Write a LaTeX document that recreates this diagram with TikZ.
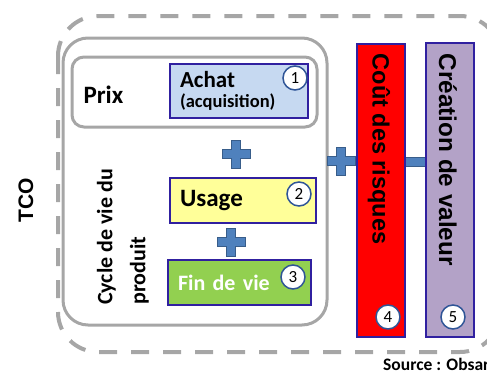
\documentclass[tikz,border=0pt]{standalone}
\usepackage{fontspec}
\setmainfont{Carlito}
\newfontfamily\arialfont{Liberation Sans}
\usetikzlibrary{positioning}
\definecolor{grisbord}{RGB}{166,166,166}
\definecolor{bordbleu}{RGB}{48,32,160}
\definecolor{bleuachat}{RGB}{198,217,241}
\definecolor{jauneusage}{RGB}{255,255,153}
\definecolor{vertfin}{RGB}{146,208,80}
\definecolor{mauve}{RGB}{179,162,199}
\definecolor{bleuplus}{RGB}{79,129,189}
\definecolor{bleuplusbord}{RGB}{56,93,138}
\definecolor{bleunum}{RGB}{47,85,151}

\begin{document}
\begin{tikzpicture}[x=1pt,y=-1pt,
	boite/.style={draw=bordbleu, line width=1.5pt, rectangle, inner sep=0pt},
	numero/.style={circle, draw=bleunum, fill=white, line width=1.5pt, minimum size=24pt, inner sep=0pt, font=\fontsize{17}{17}\selectfont},
	signe/.style={fill=bleuplus, draw=bleuplusbord, line width=1pt},
	gras/.style={font=\bfseries\fontsize{24}{24}\selectfont},
	croix/.pic={\draw[signe] (-14,-4.5) -- (-4.5,-4.5) -- (-4.5,-14) -- (4.5,-14) -- (4.5,-4.5) -- (14,-4.5) -- (14,4.5) -- (4.5,4.5) -- (4.5,14) -- (-4.5,14) -- (-4.5,4.5) -- (-14,4.5) -- cycle;}]
			
			\useasboundingbox (0,0) rectangle (487,372);
			\clip (0,0) rectangle (487,372);
			
			%cadres gris
			\draw[grisbord, line width=4pt, dash pattern=on 18pt off 14pt, rounded corners=40pt] (58,16) rectangle (500,352); %TCO
			\draw[grisbord, line width=3pt, rounded corners=25pt] (63,38) rectangle (327,325); %cycle de vie
			\draw[grisbord, line width=3pt, rounded corners=12pt] (72,57) rectangle (317,127); %prix
			
			%signes plus et moins
			\foreach \cx/\cy in {236/154, 231/242, 341/161}
				\pic at (\cx,\cy) {croix};
			\draw[signe] (404,157) rectangle (428,166);
			
			%boites
			\node[boite, fill=bleuachat, minimum width=138pt, minimum height=54pt, text width=118pt, align=left, font=\bfseries\fontsize{23}{23}\selectfont] (achat) at (239,91) {Achat\\[-3pt]{\fontsize{18.5}{18.5}\selectfont (acquisition)}};
			\node[boite, fill=jauneusage, minimum width=146pt, minimum height=45pt, text width=126pt, align=left, font=\bfseries\fontsize{25}{25}\selectfont] (usage) at (243,200.5) {Usage};
			\node[boite, fill=vertfin, minimum width=143pt, minimum height=45pt, text width=123pt, align=left, font=\bfseries\fontsize{22}{22}\selectfont, text=white] (fin) at (239.5,282.5) {Fin de vie};
			\node[boite, fill=red, minimum width=48pt, minimum height=293pt] (cout) at (381,190.5) {};
			\node[boite, fill=mauve, minimum width=48pt, minimum height=294pt] (creation) at (450,190) {};
			
			%textes verticaux
			\node[rotate=-90, anchor=west, font=\arialfont\bfseries\fontsize{23.5}{23.5}\selectfont] (couttxt) at ([xshift=-2pt,yshift=-7pt]cout.north) {Coût des risques};
			\node[rotate=-90, anchor=west, font=\arialfont\bfseries\fontsize{24.3}{24.3}\selectfont] (creationtxt) at ([xshift=-2pt,yshift=-8pt]creation.north) {Création de valeur};
			\node[rotate=90, anchor=west, align=left, inner sep=0pt, font=\bfseries\fontsize{22}{33}\selectfont] (cycle) at (123,305) {Cycle de vie du\\produit};
			\node[rotate=90, font=\arialfont\bfseries\fontsize{21}{21}\selectfont] (tco) at (26,200) {TCO};
			\node[gras, anchor=west, font=\bfseries\fontsize{25}{25}\selectfont] (prix) at (80,95) {Prix};
			
			%numeros
			\node[numero] (n1) at (295,78) {1};
			\node[numero] (n2) at (299,194) {2};
			\node[numero] (n3) at (293,277) {3};
			\node[numero] (n4) at (388,317) {4};
			\node[numero] (n5) at (453,317) {5};
			
			\node[anchor=base west, inner sep=0pt, font=\bfseries\fontsize{17.5}{17.5}\selectfont] (source) at (383,370) {Source : Obsar};
\end{tikzpicture}
\end{document}
